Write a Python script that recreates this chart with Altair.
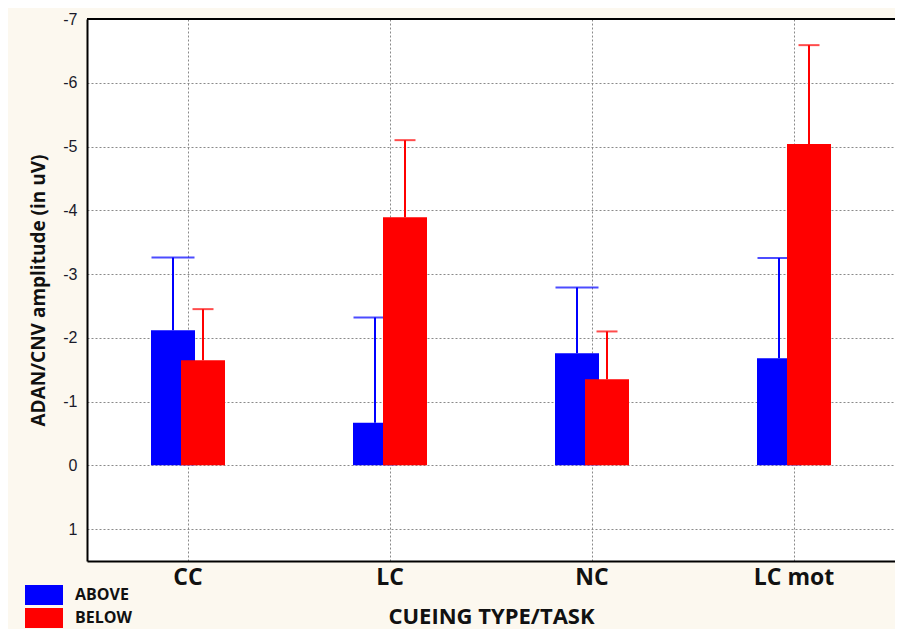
import altair as alt
import pandas as pd

categories = ["CC", "LC", "NC", "LC mot"]
groups = ["ABOVE", "BELOW"]
above_values = [-2.12, -0.67, -1.76, -1.68]
above_err_top = [-3.26, -2.32, -2.79, -3.25]
below_values = [-1.65, -3.89, -1.35, -5.04]
below_err_top = [-2.45, -5.10, -2.10, -6.59]
y_ticks = [-7, -6, -5, -4, -3, -2, -1, 0, 1]
y_top = -7

rows = []
for c, v, e in zip(categories, above_values, above_err_top):
    rows.append({"category": c, "group": "ABOVE", "value": v, "err": e})
for c, v, e in zip(categories, below_values, below_err_top):
    rows.append({"category": c, "group": "BELOW", "value": v, "err": e})
df = pd.DataFrame(rows)

BLUE = "#0000ff"
RED = "#ff0000"
FONT = "Open Sans"

x_enc = alt.X(
    "category:N",
    sort=categories,
    scale=alt.Scale(paddingInner=0, paddingOuter=0),
    axis=alt.Axis(
        title="CUEING TYPE/TASK",
        labelAngle=0,
        labelFont=FONT,
        labelFontWeight="bold",
        labelFontSize=23,
        labelColor="#111111",
        labelPadding=5,
        ticks=False,
        tickSize=0,
        domainColor="black",
        domainWidth=2,
        grid=True,
        gridColor="#8a8a8a",
        gridDash=[2, 2],
        gridWidth=1,
        titleFont=FONT,
        titleFontWeight="bold",
        titleFontSize=22,
        titleColor="#111111",
        titleY=62,
        titleBaseline="alphabetic",
    ),
)

y_scale = alt.Scale(domain=[-7, 1.5], reverse=True, nice=False, zero=False)
y_enc = alt.Y(
    "value:Q",
    scale=y_scale,
    axis=alt.Axis(
        title="ADAN/CNV amplitude (in uV)",
        values=y_ticks,
        labelExpr="'' + datum.value",
        labelFont="Liberation Sans",
        labelFontSize=16,
        labelColor="#1a1a2a",
        labelPadding=10,
        ticks=False,
        tickSize=0,
        domainColor="black",
        domainWidth=2,
        grid=True,
        gridColor="#8a8a8a",
        gridDash=[2, 2],
        gridWidth=1,
        titleFont=FONT,
        titleFontWeight="bold",
        titleFontSize=19,
        titleColor="#111111",
        titleX=-49,
        titleY=271,
        titleBaseline="middle",
    ),
)

color_enc = alt.Color(
    "group:N",
    scale=alt.Scale(domain=groups, range=[BLUE, RED]),
    legend=alt.Legend(
        title=None,
        orient="none",
        legendX=-53,
        legendY=566,
        padding=0,
        symbolType="M-1.9,-1H1.9V1H-1.9Z",
        symbolSize=400,
        symbolStrokeWidth=0,
        symbolOpacity=1,
        rowPadding=3,
        labelOffset=21,
        labelFont=FONT,
        labelFontWeight="bold",
        labelFontSize=16,
        labelColor="#111111",
    ),
)

base = alt.Chart(df)

def group_layers(gname, color, offset, cap):
    b = base.transform_filter(alt.datum.group == gname)
    bar = b.mark_bar(width=44, xOffset=offset).encode(
        x=x_enc, y=y_enc, y2=alt.datum(0), color=color_enc
    )
    stem = b.mark_rule(color=color, strokeWidth=2, xOffset=offset).encode(
        x=alt.X("category:N", sort=categories),
        y=alt.Y("value:Q", scale=y_scale),
        y2="err:Q",
    )
    captick = b.mark_tick(color=color, thickness=2, size=cap, xOffset=offset, orient="horizontal").encode(
        x=alt.X("category:N", sort=categories),
        y=alt.Y("err:Q", scale=y_scale),
    )
    return [bar, stem, captick]

top_border = alt.Chart(df).mark_rule(color="black", strokeWidth=2).encode(
    y=alt.datum(y_top, scale=y_scale)
)

layers = group_layers("ABOVE", BLUE, -15, 43) + group_layers("BELOW", RED, 15, 21) + [top_border]

chart = (
    alt.layer(*layers)
    .properties(
        width=808,
        height=542,
        background="#fcf8ef",
        autosize=alt.AutoSizeParams(type="none"),
        padding={"left": 79, "top": 11, "right": 0, "bottom": 68},
    )
    .configure_view(fill="white", strokeWidth=0)
)

chart.save("out.html", embed_options={"renderer": "svg", "actions": False})
